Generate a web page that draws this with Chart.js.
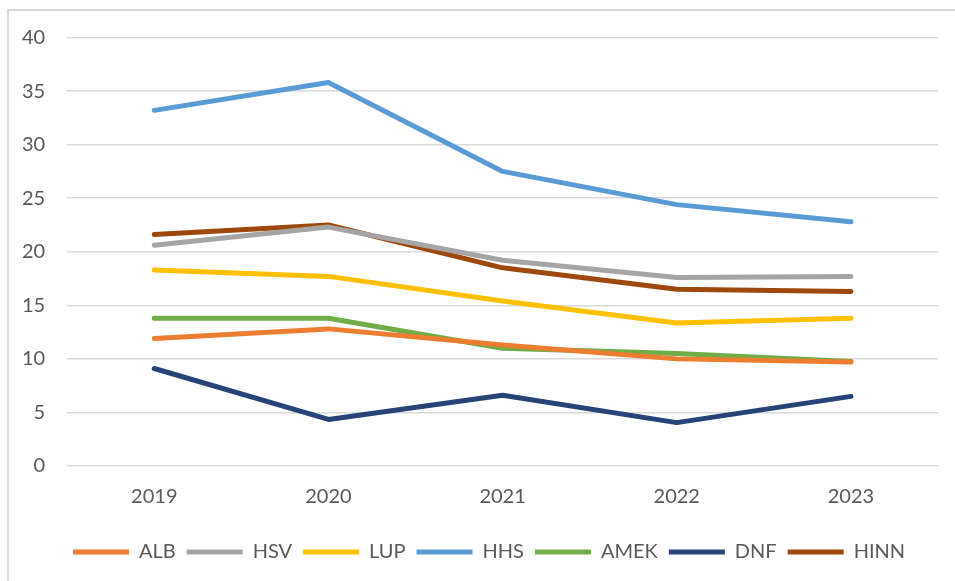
<!DOCTYPE html>
<html>
<head>
<meta charset="utf-8">
<script src="https://cdn.jsdelivr.net/npm/chart.js@4/dist/chart.umd.min.js"></script>
<style>
  html, body { margin: 0; padding: 0; background: #fff; overflow: hidden; }
  #frame { position: absolute; left: 7px; top: 9px; width: 1000px; height: 700px; border: 2px solid #d9d9d9; box-sizing: border-box; }
  #wrap { position: absolute; left: 0; top: 0; width: 955px; height: 581px; }
</style>
</head>
<body>
<div id="frame"></div>
<div id="wrap"><canvas id="c" width="955" height="581"></canvas></div>
<script>
const years = ['2019', '2020', '2021', '2022', '2023'];
const ALB  = [11.9, 12.8, 11.3, 10.0, 9.7];
const HSV  = [20.6, 22.3, 19.2, 17.6, 17.7];
const LUP  = [18.3, 17.7, 15.4, 13.35, 13.8];
const HHS  = [33.2, 35.8, 27.5, 24.4, 22.8];
const AMEK = [13.8, 13.8, 11.0, 10.5, 9.75];
const DNF  = [9.1, 4.35, 6.6, 4.05, 6.5];
const HINN = [21.6, 22.5, 18.5, 16.5, 16.3];
const yTicks = [0, 5, 10, 15, 20, 25, 30, 35, 40];

const seriesNames = ['ALB', 'HSV', 'LUP', 'HHS', 'AMEK', 'DNF', 'HINN'];
const seriesData = [ALB, HSV, LUP, HHS, AMEK, DNF, HINN];
const seriesColors = ['#ed7d31', '#a5a5a5', '#ffc000', '#5b9bd5', '#70ad47', '#264478', '#9e480e'];

const datasets = seriesNames.map((n, i) => ({
  label: n,
  data: seriesData[i],
  borderColor: seriesColors[i],
  backgroundColor: seriesColors[i],
  borderWidth: 5,
  borderCapStyle: 'round',
  borderJoinStyle: 'round',
  pointRadius: 0,
  pointHoverRadius: 0,
  tension: 0,
  fill: false
}));

const FONT = 'Lato, "Open Sans", sans-serif';

const shiftLegend = {
  id: 'shiftLegend',
  afterLayout(chart) {
    if (chart.legend) { chart.legend.left += 20; chart.legend.right += 20; }
  }
};

new Chart(document.getElementById('c'), {
  type: 'line',
  data: { labels: years, datasets },
  plugins: [shiftLegend],
  options: {
    responsive: false,
    animation: false,
    devicePixelRatio: 1,
    layout: { padding: { left: 0, right: 17, top: 37.5, bottom: 9 } },
    plugins: {
      legend: {
        position: 'bottom',
        labels: {
          usePointStyle: true,
          pointStyle: 'line',
          pointStyleWidth: 56,
          boxHeight: 5,
          padding: 11,
          color: '#595959',
          font: { family: FONT, size: 20 }
        }
      },
      tooltip: { enabled: false }
    },
    scales: {
      x: {
        offset: true,
        grid: { display: false },
        border: { display: false },
        afterFit: (s) => { s.height += 11; },
        ticks: { color: '#595959', padding: 11, font: { family: FONT, size: 20 } }
      },
      y: {
        min: 0, max: 40,
        afterBuildTicks: (axis) => { axis.ticks = yTicks.map(v => ({ value: v })); },
        grid: { color: '#d9d9d9', lineWidth: 1.5, drawTicks: false },
        border: { display: false },
        ticks: { color: '#595959', padding: 22, font: { family: FONT, size: 20 } }
      }
    }
  }
});
</script>
</body>
</html>
